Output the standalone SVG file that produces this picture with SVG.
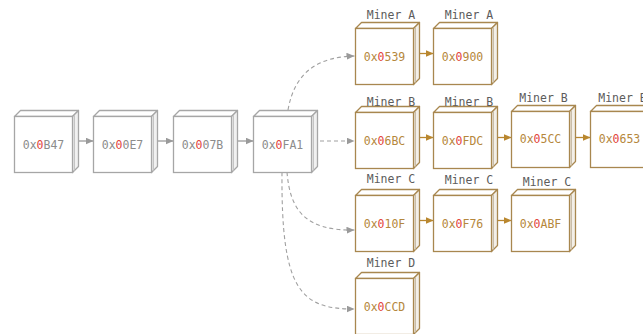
<svg xmlns="http://www.w3.org/2000/svg" xmlns:xlink="http://www.w3.org/1999/xlink" width="643" height="334" viewBox="0 0 643 334">
  <style>
    text { font-family: "DejaVu Sans Mono", "Liberation Mono", monospace; font-size: 11.5px; text-anchor: middle; }
    .hash-gray { fill: #8c8c8c; }
    .hash-gold { fill: #b5873c; }
    .zero { fill: #e2443c; }
    .miner { fill: #5c5c5c; }
    .g-front { fill: #ffffff; stroke: #a6a6a6; stroke-width: 1.3; }
    .g-top { fill: #ffffff; stroke: #a6a6a6; stroke-width: 1.3; stroke-linejoin: round; }
    .g-side { fill: #f1f1f1; stroke: #a6a6a6; stroke-width: 1.3; stroke-linejoin: round; }
    .g-edge { stroke: #c4c4c4; stroke-width: 1; fill: none; }
    .o-front { fill: #ffffff; stroke: #a8874f; stroke-width: 1.3; }
    .o-top { fill: #ffffff; stroke: #a8874f; stroke-width: 1.3; stroke-linejoin: round; }
    .o-side { fill: #f3efe8; stroke: #a8874f; stroke-width: 1.3; stroke-linejoin: round; }
    .o-edge { stroke: #c9bda8; stroke-width: 1; fill: none; }
    .link-gray { stroke: #9a9a9a; stroke-width: 1.3; fill: none; marker-end: url(#head-gray); }
    .link-gold { stroke: #b9872f; stroke-width: 1.3; fill: none; marker-end: url(#head-gold); }
    .fork { stroke: #a0a0a0; stroke-width: 1.1; fill: none; stroke-dasharray: 4 3; marker-end: url(#head-gray); }
  </style>
  <defs>
    <marker id="head-gray" markerUnits="userSpaceOnUse" markerWidth="9" markerHeight="8" refX="8" refY="3.5" orient="auto">
      <path d="M0,0 L8,3.5 L0,7 Z" fill="#9a9a9a"/>
    </marker>
    <marker id="head-gold" markerUnits="userSpaceOnUse" markerWidth="9" markerHeight="8" refX="8" refY="3.5" orient="auto">
      <path d="M0,0 L8,3.5 L0,7 Z" fill="#b9872f"/>
    </marker>
    <!-- block shapes drawn at the origin; front face 58x56, depth 6 -->
    <g id="block-gray">
      <path class="g-top" d="M0,0 L6,-6 L64,-6 L58,0 Z"/>
      <path class="g-side" d="M58,0 L64,-6 L64,50 L58,56 Z"/>
      <path class="g-edge" d="M60,-1.5 L60,54"/>
      <rect class="g-front" x="0" y="0" width="58" height="56"/>
    </g>
    <g id="block-gold">
      <path class="o-top" d="M0,0 L6,-6 L64,-6 L58,0 Z"/>
      <path class="o-side" d="M58,0 L64,-6 L64,50 L58,56 Z"/>
      <path class="o-edge" d="M60,-1.5 L60,54"/>
      <rect class="o-front" x="0" y="0" width="58" height="56"/>
    </g>
  </defs>

  <!-- connectors -->
  <g id="connectors">
    <line class="link-gray" x1="78.5" y1="141" x2="93.5" y2="141"/>
    <line class="link-gray" x1="157.5" y1="141" x2="173.5" y2="141"/>
    <line class="link-gray" x1="237.5" y1="141" x2="253.5" y2="141"/>

    <path class="fork" d="M288,110 C295,70 320,57 354.5,56"/>
    <path class="fork" d="M320,141 L354.5,141"/>
    <path class="fork" d="M287,172 C290,210 305,231 354.5,230"/>
    <path class="fork" d="M282,172 C281,290 300,309 354.5,309"/>

    <line class="link-gold" x1="419.5" y1="53.5" x2="433.5" y2="53.5"/>
    <line class="link-gold" x1="419.5" y1="137.5" x2="433.5" y2="137.5"/>
    <line class="link-gold" x1="497.5" y1="137.5" x2="511.5" y2="137.5"/>
    <line class="link-gold" x1="575.5" y1="137.5" x2="590.5" y2="137.5"/>
    <line class="link-gold" x1="419.5" y1="220.5" x2="433.5" y2="220.5"/>
    <line class="link-gold" x1="497.5" y1="220.5" x2="511.5" y2="220.5"/>
  </g>

  <!-- main chain -->
  <g id="block-0B47" transform="translate(14.5,116.5)">
    <use xlink:href="#block-gray"/>
    <text class="hash-gray" x="29" y="32">0x<tspan class="zero">0</tspan>B47</text>
  </g>
  <g id="block-00E7" transform="translate(93.5,116.5)">
    <use xlink:href="#block-gray"/>
    <text class="hash-gray" x="29" y="32">0x<tspan class="zero">0</tspan>0E7</text>
  </g>
  <g id="block-007B" transform="translate(173.5,116.5)">
    <use xlink:href="#block-gray"/>
    <text class="hash-gray" x="29" y="32">0x<tspan class="zero">0</tspan>07B</text>
  </g>
  <g id="block-0FA1" transform="translate(253.5,116.5)">
    <use xlink:href="#block-gray"/>
    <text class="hash-gray" x="29" y="32">0x<tspan class="zero">0</tspan>FA1</text>
  </g>

  <!-- Miner A -->
  <g id="block-0539" transform="translate(355.5,28.5)">
    <use xlink:href="#block-gold"/>
    <text class="miner" x="35.5" y="-9.5">Miner A</text>
    <text class="hash-gold" x="29" y="32">0x<tspan class="zero">0</tspan>539</text>
  </g>
  <g id="block-0900" transform="translate(433.5,28.5)">
    <use xlink:href="#block-gold"/>
    <text class="miner" x="35.5" y="-9.5">Miner A</text>
    <text class="hash-gold" x="29" y="32">0x<tspan class="zero">0</tspan>900</text>
  </g>

  <!-- Miner B -->
  <g id="block-06BC" transform="translate(355.5,112.5)">
    <use xlink:href="#block-gold"/>
    <text class="miner" x="35.5" y="-7">Miner B</text>
    <text class="hash-gold" x="29" y="32">0x<tspan class="zero">0</tspan>6BC</text>
  </g>
  <g id="block-0FDC" transform="translate(433.5,112.5)">
    <use xlink:href="#block-gold"/>
    <text class="miner" x="35.5" y="-7">Miner B</text>
    <text class="hash-gold" x="29" y="32">0x<tspan class="zero">0</tspan>FDC</text>
  </g>
  <g id="block-05CC" transform="translate(511.5,111.5)">
    <use xlink:href="#block-gold"/>
    <text class="miner" x="32" y="-10">Miner B</text>
    <text class="hash-gold" x="29" y="31.5">0x<tspan class="zero">0</tspan>5CC</text>
  </g>
  <g id="block-0653" transform="translate(590.5,111.5)">
    <use xlink:href="#block-gold"/>
    <text class="miner" x="32" y="-10">Miner B</text>
    <text class="hash-gold" x="29" y="31.5">0x<tspan class="zero">0</tspan>653</text>
  </g>

  <!-- Miner C -->
  <g id="block-010F" transform="translate(355.5,195.5)">
    <use xlink:href="#block-gold"/>
    <text class="miner" x="35.5" y="-12.5">Miner C</text>
    <text class="hash-gold" x="29" y="32">0x<tspan class="zero">0</tspan>10F</text>
  </g>
  <g id="block-0F76" transform="translate(433.5,195.5)">
    <use xlink:href="#block-gold"/>
    <text class="miner" x="35.5" y="-11.5">Miner C</text>
    <text class="hash-gold" x="29" y="32">0x<tspan class="zero">0</tspan>F76</text>
  </g>
  <g id="block-0ABF" transform="translate(511.5,195.5)">
    <use xlink:href="#block-gold"/>
    <text class="miner" x="35.5" y="-10">Miner C</text>
    <text class="hash-gold" x="29" y="32">0x<tspan class="zero">0</tspan>ABF</text>
  </g>

  <!-- Miner D -->
  <g id="block-0CCD" transform="translate(355.5,278.5)">
    <use xlink:href="#block-gold"/>
    <text class="miner" x="35.5" y="-12">Miner D</text>
    <text class="hash-gold" x="29" y="32">0x<tspan class="zero">0</tspan>CCD</text>
  </g>
</svg>
